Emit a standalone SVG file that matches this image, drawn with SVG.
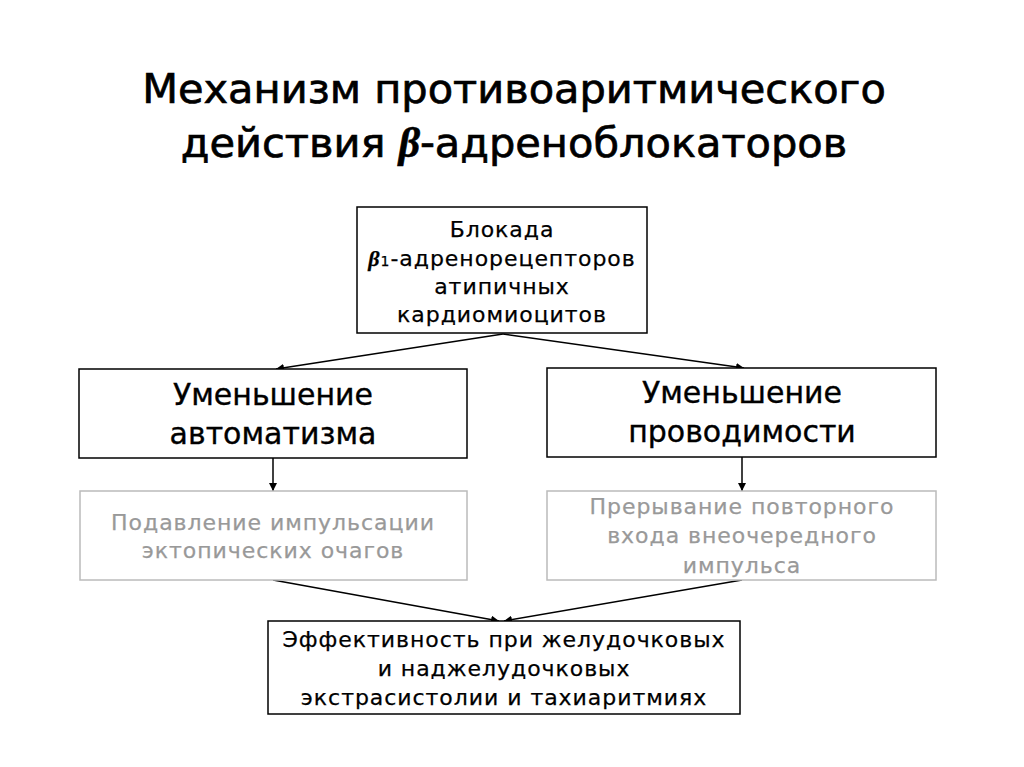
<svg xmlns="http://www.w3.org/2000/svg" width="1024" height="767" viewBox="0 0 1024 767">
<style>
text{font-family:"DejaVu Sans","Noto Sans",sans-serif;text-anchor:middle;fill:#000}
.title{font-size:41.5px;stroke:#000;stroke-width:0.7}
.t22{font-size:22px;letter-spacing:0.95px;stroke:#000;stroke-width:0.25}
.t30{font-size:30px;stroke:#000;stroke-width:0.35}
.grey{fill:#999;stroke:#999}
.box{fill:#fff;stroke:#000;stroke-width:1.5}
.gbox{fill:#fff;stroke:#bbb;stroke-width:1.5}
.conn{stroke:#000;stroke-width:1.5;fill:none;marker-end:url(#ah)}
.beta{font-family:"Liberation Serif","DejaVu Serif",serif;font-style:italic;font-weight:bold}
</style>
<defs>
<marker id="ah" viewBox="0 0 10 10" refX="10" refY="5" markerWidth="8" markerHeight="8" orient="auto" markerUnits="userSpaceOnUse">
<path d="M0,0 L10,5 L0,10 z" fill="#000"/>
</marker>
</defs>
<rect width="1024" height="767" fill="#fff"/>
<g id="title">
<text class="title" x="514" y="103">Механизм противоаритмического</text>
<text class="title" x="514" y="157">действия <tspan class="beta">β</tspan>-адреноблокаторов</text>
</g>
<g id="connectors">
<line class="conn" x1="503" y1="334" x2="276" y2="369"/>
<line class="conn" x1="503" y1="334" x2="744" y2="368"/>
<line class="conn" x1="273" y1="458" x2="273" y2="491"/>
<line class="conn" x1="742" y1="457" x2="742" y2="491"/>
<line class="conn" x1="273" y1="580" x2="499" y2="621"/>
<line class="conn" x1="742" y1="580" x2="504" y2="621"/>
</g>
<g id="n_blockade">
<rect class="box" x="357" y="207" width="290" height="126"/>
<text class="t22" x="502" y="237">Блокада</text>
<text class="t22" x="502" y="266"><tspan class="beta">β</tspan><tspan font-size="14">1</tspan>-адренорецепторов</text>
<text class="t22" x="502" y="294">атипичных</text>
<text class="t22" x="502" y="322">кардиомиоцитов</text>
</g>
<g id="n_automatism">
<rect class="box" x="79" y="369" width="388" height="89"/>
<text class="t30" x="273" y="405">Уменьшение</text>
<text class="t30" x="273" y="444">автоматизма</text>
</g>
<g id="n_conduction">
<rect class="box" x="547" y="368" width="389" height="89"/>
<text class="t30" x="742" y="403">Уменьшение</text>
<text class="t30" x="742" y="442">проводимости</text>
</g>
<g id="n_suppression">
<rect class="gbox" x="80" y="491" width="387" height="89"/>
<text class="t22 grey" x="273" y="530">Подавление импульсации</text>
<text class="t22 grey" x="273" y="558">эктопических очагов</text>
</g>
<g id="n_reentry">
<rect class="gbox" x="547" y="491" width="389" height="89"/>
<text class="t22 grey" x="742" y="514">Прерывание повторного</text>
<text class="t22 grey" x="742" y="543">входа внеочередного</text>
<text class="t22 grey" x="742" y="573">импульса</text>
</g>
<g id="n_efficacy">
<rect class="box" x="268" y="621" width="472" height="93"/>
<text class="t22" x="504" y="647">Эффективность при желудочковых</text>
<text class="t22" x="504" y="676">и наджелудочковых</text>
<text class="t22" x="504" y="705">экстрасистолии и тахиаритмиях</text>
</g>
</svg>
